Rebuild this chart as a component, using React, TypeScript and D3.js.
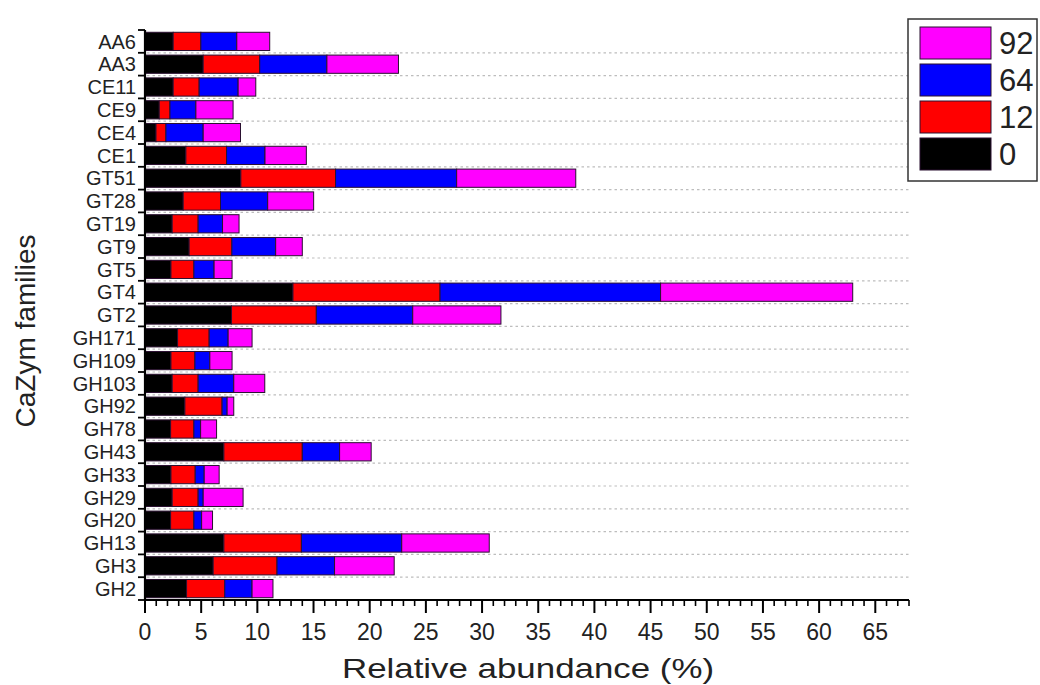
import React, { useEffect, useRef } from "react";
import * as d3 from "d3";

const categories = ["AA6","AA3","CE11","CE9","CE4","CE1","GT51","GT28","GT19","GT9","GT5","GT4","GT2","GH171","GH109","GH103","GH92","GH78","GH43","GH33","GH29","GH20","GH13","GH3","GH2"];
const seriesNames = ["0", "12", "64", "92"];
const s0 = [2.51,5.18,2.51,1.27,0.98,3.64,8.53,3.40,2.42,3.93,2.31,13.17,7.70,2.90,2.31,2.42,3.55,2.28,7.02,2.31,2.42,2.28,7.02,6.07,3.70];
const s12 = [2.46,5.03,2.31,0.95,0.88,3.62,8.43,3.32,2.31,3.80,2.04,13.09,7.55,2.81,2.13,2.31,3.31,2.07,6.98,2.16,2.31,2.07,6.90,5.68,3.40];
const s64 = [3.20,5.98,3.47,2.31,3.32,3.42,10.78,4.20,2.17,3.90,1.80,19.63,8.58,1.69,1.33,3.17,0.45,0.60,3.32,0.80,0.45,0.69,8.93,5.12,2.43];
const s92 = [2.93,6.37,1.57,3.31,3.32,3.68,10.60,4.09,1.47,2.37,1.60,17.10,7.85,2.13,1.98,2.76,0.59,1.42,2.81,1.33,3.55,0.97,7.79,5.31,1.86];
const xTickValues = [0,5,10,15,20,25,30,35,40,45,50,55,60,65];
const colors = ["#000000", "#ff0000", "#0000ff", "#ff00ff"];

export default function App() {
  const ref = useRef<SVGSVGElement>(null);
  useEffect(() => {
    const svg = d3.select(ref.current);
    svg.selectAll("*").remove();
    const font = "'Liberation Sans', Arial, sans-serif";
    const left = 145, right = 909, top = 30, bottom = 600;
    const x = d3.scaleLinear().domain([0, 68]).range([left, right]);
    const y = d3.scaleBand().domain(categories).range([top, bottom]).paddingInner(0.2).paddingOuter(0.1);

    const rows = categories.map((c, i) => ({ cat: c, "0": s0[i], "12": s12[i], "64": s64[i], "92": s92[i] }));
    const stacked = d3.stack<any>().keys(seriesNames)(rows);

    // gridlines at band boundaries
    const bounds = d3.range(1, categories.length).map(i => top + i * (bottom - top) / categories.length);
    svg.append("g").selectAll("line").data(bounds).join("line")
      .attr("x1", left + 2).attr("x2", right).attr("y1", d => d).attr("y2", d => d)
      .attr("stroke", "#bdbdbd").attr("stroke-width", 1.2).attr("stroke-dasharray", "2.5,3");

    // bars
    const g = svg.append("g");
    stacked.forEach((layer, li) => {
      g.append("g").selectAll("rect").data(layer).join("rect")
        .attr("x", d => x(d[0]))
        .attr("width", d => x(d[1]) - x(d[0]))
        .attr("y", d => (y(d.data.cat) as number))
        .attr("height", y.bandwidth())
        .attr("fill", colors[li])
        .attr("stroke", "#2a1030").attr("stroke-width", 1);
    });

    // y axis
    const ax = svg.append("g");
    ax.append("line").attr("x1", left).attr("x2", left).attr("y1", top).attr("y2", bottom + 1)
      .attr("stroke", "#000").attr("stroke-width", 2.2);
    const yb = d3.range(0, categories.length + 1).map(i => top + i * (bottom - top) / categories.length);
    ax.selectAll("line.yt").data(yb).join("line").attr("class", "yt")
      .attr("x1", left - 7).attr("x2", left).attr("y1", d => d).attr("y2", d => d)
      .attr("stroke", "#000").attr("stroke-width", 1.8);
    ax.selectAll("text.yl").data(categories).join("text").attr("class", "yl")
      .attr("x", 136).attr("y", d => (y(d) as number) + y.bandwidth() / 2)
      .attr("dy", "0.36em").attr("text-anchor", "end")
      .attr("font-family", font).attr("font-size", 20).attr("fill", "#222")
      .text(d => d);

    // x axis
    ax.append("line").attr("x1", left - 1).attr("x2", right).attr("y1", bottom).attr("y2", bottom)
      .attr("stroke", "#000").attr("stroke-width", 2.2);
    const minor = d3.range(0, 69, 1);
    ax.selectAll("line.xm").data(minor).join("line").attr("class", "xm")
      .attr("x1", d => x(d)).attr("x2", d => x(d)).attr("y1", bottom)
      .attr("y2", d => bottom + (d % 5 === 0 ? 13 : 6))
      .attr("stroke", "#000").attr("stroke-width", d => (d % 5 === 0 ? 2 : 1.6));
    ax.selectAll("text.xl").data(xTickValues).join("text").attr("class", "xl")
      .attr("x", d => x(d)).attr("y", 632).attr("dy", "0.36em").attr("text-anchor", "middle")
      .attr("font-family", font).attr("font-size", 23).attr("fill", "#222")
      .text(d => String(d));

    svg.append("text").attr("x", 528).attr("y", 668).attr("dy", "0.36em").attr("text-anchor", "middle")
      .attr("font-family", font).attr("font-size", 28).attr("fill", "#222")
      .attr("textLength", 372).attr("lengthAdjust", "spacingAndGlyphs")
      .text("Relative abundance (%)");
    svg.append("text").attr("transform", "translate(25,331) rotate(-90)").attr("dy", "0.36em")
      .attr("text-anchor", "middle").attr("font-family", font).attr("font-size", 28).attr("fill", "#222")
      .attr("textLength", 193).attr("lengthAdjust", "spacingAndGlyphs")
      .text("CaZym families");

    // legend
    const lg = svg.append("g");
    lg.append("rect").attr("x", 908).attr("y", 19).attr("width", 129).attr("height", 162)
      .attr("fill", "#fff").attr("stroke", "#333").attr("stroke-width", 1.5);
    const legendOrder = [3, 2, 1, 0];
    legendOrder.forEach((si, k) => {
      const yy = 27 + k * 37;
      lg.append("rect").attr("x", 920).attr("y", yy).attr("width", 71).attr("height", 32)
        .attr("fill", colors[si]).attr("stroke", "#2a1030").attr("stroke-width", 1);
      lg.append("text").attr("x", 999).attr("y", yy + 16).attr("dy", "0.36em")
        .attr("font-family", font).attr("font-size", 31).attr("fill", "#222")
        .text(seriesNames[si]);
    });
  }, []);
  return (
    <svg ref={ref} width={1040} height={685}
      style={{ position: "absolute", left: 0, top: 0, background: "#fff" }} />
  );
}
